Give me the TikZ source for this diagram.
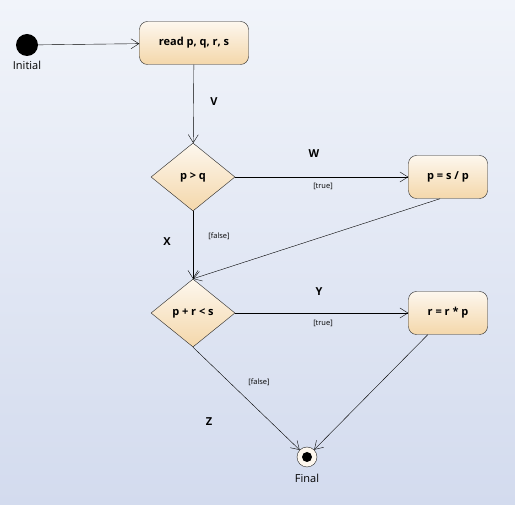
\documentclass[tikz,border=0pt]{standalone}
\usepackage{fontspec}
\setmainfont{Open Sans}
\usetikzlibrary{arrows.meta,shapes.geometric}

\definecolor{bgtop}{HTML}{F1F4FA}
\definecolor{bgbot}{HTML}{D3DBEE}
\definecolor{filltop}{HTML}{FDF7EE}
\definecolor{fillbot}{HTML}{F4D7AA}

\tikzset{
    action/.style={rectangle, rounded corners=8pt, draw=black!85, thin,
        top color=filltop, bottom color=fillbot,
        minimum width=109pt, minimum height=43pt, font=\fontsize{11}{13}\selectfont\bfseries},
    decision/.style={diamond, draw=black!85, thin, aspect=1.24, inner sep=0pt,
        top color=filltop, bottom color=fillbot,
        minimum width=84pt, minimum height=68pt, font=\fontsize{11}{13}\selectfont\bfseries},
    edgename/.style={font=\fontsize{11}{13}\selectfont\bfseries},
    guard/.style={font=\fontsize{7.5}{9}\selectfont},
    caption/.style={font=\fontsize{11}{13}\selectfont}
}

\begin{document}
\begin{tikzpicture}[x=1pt, y={(0pt,-1pt)}, >={Straight Barb[length=8pt,width=10pt]}, thin]

    % background
    \fill[top color=bgtop, bottom color=bgbot] (0,0) rectangle (515,505);

    \node[circle, fill=black, inner sep=0pt, minimum size=22pt] (init) at (27,45) {};
    \node[caption] (initlbl) at (27,65) {Initial};
    \node[action] (read) at (194,43) {read p, q, r, s};
    \node[decision] (gt) at (193,177) {p > q};
    \node[action, minimum width=79pt] (div) at (448,177) {p = s / p};
    \node[decision] (lt) at (193,313) {p + r < s};
    \node[action, minimum width=79pt] (mul) at (448,313) {r = r * p};
    \node[circle, draw=black!85, fill=filltop, inner sep=0pt, minimum size=20pt] (final) at (307,457) {};
    \fill[black] (final.center) circle (5pt);
    \node[caption] (finallbl) at (307,478) {Final};

    \node[edgename] (V) at (214,102) {V};
    \node[edgename] (W) at (314,154) {W};
    \node[guard] (true1) at (323,186) {[true]};
    \node[guard] (false1) at (219,236) {[false]};
    \node[edgename] (X) at (167,242) {X};
    \node[edgename] (Y) at (319,292) {Y};
    \node[guard] (true2) at (323,323) {[true]};
    \node[guard] (false2) at (259,382) {[false]};
    \node[edgename] (Z) at (209,422) {Z};

    \draw[->] (init) -- (read);
    \draw[->] (read) -- (gt);
    \draw[->] (gt) -- (div);
    \draw[->] (gt) -- (lt);
    \draw[->] (div.250) -- (lt.north);
    \draw[->] (lt) -- (mul);
    \draw[->] (lt.south) -- (final);
    \draw[->] (mul.227) -- (final);
        \end{tikzpicture}
\end{document}
